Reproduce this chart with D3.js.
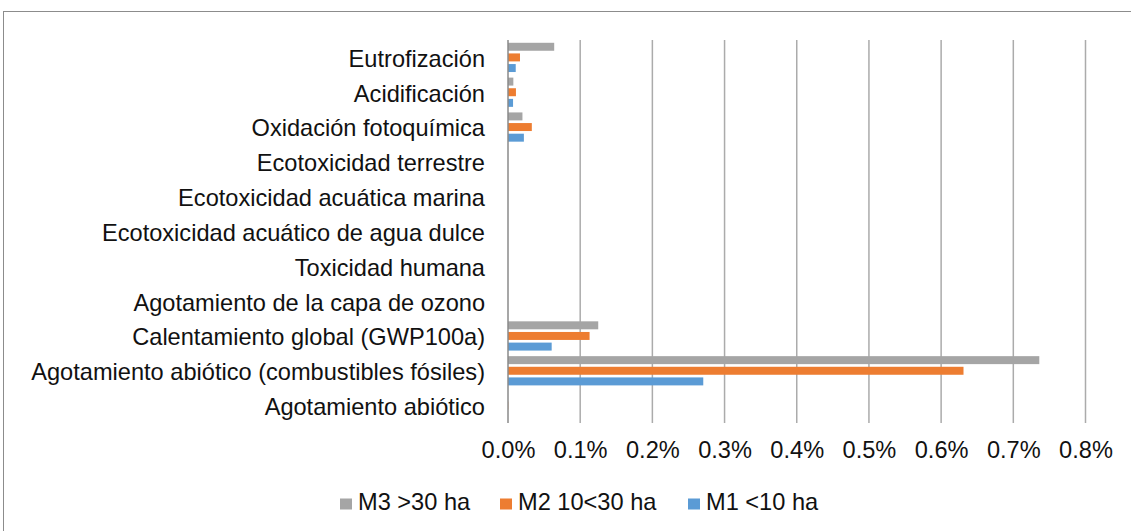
<!DOCTYPE html>
<html>
<head>
  <meta charset="utf-8">
  <style>
    body { margin: 0; background: #fff; font-family: "Liberation Sans", Arial, sans-serif; }
    svg text { fill: #111; }
  </style>
</head>
<body>
<script src="https://d3js.org/d3.v7.min.js"></script>
<div id="chart"></div>
<script>
  // categories, top to bottom
  const categories = [
    "Eutrofización",
    "Acidificación",
    "Oxidación fotoquímica",
    "Ecotoxicidad terrestre",
    "Ecotoxicidad acuática marina",
    "Ecotoxicidad acuático de agua dulce",
    "Toxicidad humana",
    "Agotamiento de la capa de ozono",
    "Calentamiento global (GWP100a)",
    "Agotamiento abiótico (combustibles fósiles)",
    "Agotamiento abiótico"
  ];
  const seriesNames = ["M3 >30 ha", "M2 10<30 ha", "M1 <10 ha"];
  const seriesColors = ["#a5a5a5", "#ed7d31", "#5b9bd5"];
  // values in percent
  const m3Values = [0.064, 0.0074, 0.020, 0, 0, 0, 0, 0, 0.125, 0.736, 0];
  const m2Values = [0.0166, 0.011, 0.033, 0, 0, 0, 0, 0, 0.113, 0.631, 0.0004];
  const m1Values = [0.0107, 0.007, 0.022, 0, 0, 0, 0, 0, 0.0605, 0.2705, 0];
  const xTicks = [0, 0.1, 0.2, 0.3, 0.4, 0.5, 0.6, 0.7, 0.8];

  const W = 1131, H = 531;
  const x0 = 508, x1 = 1085.5, yTop = 40, yBottom = 423;
  const fontSize = "23.6px";
  const fontFamily = "'Liberation Sans', Arial, sans-serif";

  const svg = d3.select("#chart").append("svg")
    .attr("width", W).attr("height", H);

  // chart border (only top and left visible in frame)
  svg.append("rect")
    .attr("x", 3.5).attr("y", 11.5)
    .attr("width", W + 10).attr("height", H + 10)
    .attr("fill", "none").attr("stroke", "#8c8c8c").attr("stroke-width", 1);

  const x = d3.scaleLinear().domain([0, 0.8]).range([x0, x1]);
  const y = d3.scaleBand().domain(categories).range([yTop, yBottom]).paddingInner(0.16).paddingOuter(0.08);
  const ySub = d3.scaleBand().domain(seriesNames).range([0, y.bandwidth()]).paddingInner(0.25);

  // gridlines
  svg.append("g").selectAll("line")
    .data(xTicks.slice(1))
    .join("line")
    .attr("x1", d => x(d)).attr("x2", d => x(d))
    .attr("y1", yTop).attr("y2", yBottom)
    .attr("stroke", "#ababab").attr("stroke-width", 1.5);

  // x tick labels
  const xAxis = d3.axisBottom(x).tickValues(xTicks)
    .tickFormat(d => d.toFixed(1) + "%").tickSize(0).tickPadding(0);
  const gx = svg.append("g").attr("transform", `translate(0, ${yBottom + 18})`).call(xAxis);
  gx.select(".domain").remove();
  gx.selectAll("text").attr("font-size", fontSize).attr("font-family", fontFamily).attr("fill", "#111");

  // bars
  const allValues = [m3Values, m2Values, m1Values];
  seriesNames.forEach((name, si) => {
    svg.append("g").selectAll("rect")
      .data(categories.map((c, i) => ({ c, v: allValues[si][i] })))
      .join("rect")
      .attr("x", x(0))
      .attr("y", d => y(d.c) + ySub(name))
      .attr("width", d => x(d.v) - x(0))
      .attr("height", ySub.bandwidth())
      .attr("fill", seriesColors[si]);
  });

  // category axis line
  svg.append("line")
    .attr("x1", x0).attr("x2", x0).attr("y1", yTop).attr("y2", yBottom)
    .attr("stroke", "#8a8a8a").attr("stroke-width", 1.5);

  // category labels
  const yAxis = d3.axisLeft(y).tickSize(0).tickPadding(23);
  const gy = svg.append("g").attr("transform", `translate(${x0}, 0)`).call(yAxis);
  gy.select(".domain").remove();
  gy.selectAll("text").attr("font-size", fontSize).attr("dy", "0.4em")
    .attr("font-family", fontFamily).attr("fill", "#111");

  // legend
  const legendX = [340, 500, 688];
  const legend = svg.append("g");
  seriesNames.forEach((name, i) => {
    legend.append("rect")
      .attr("x", legendX[i]).attr("y", 498.5)
      .attr("width", 12).attr("height", 11)
      .attr("fill", seriesColors[i]);
    legend.append("text")
      .attr("x", legendX[i] + 18).attr("y", 510)
      .attr("font-size", fontSize)
      .attr("font-family", fontFamily)
      .text(name);
  });
</script>
</body>
</html>
